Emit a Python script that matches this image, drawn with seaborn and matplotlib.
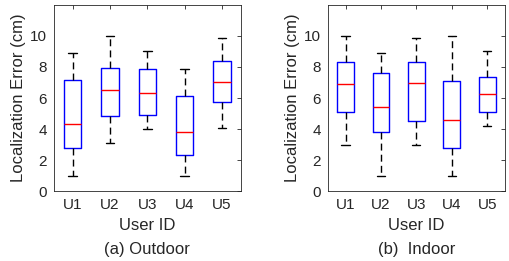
import numpy as np
import pandas as pd
import matplotlib
matplotlib.use('Agg')
import matplotlib.pyplot as plt
import seaborn as sns

# five-number summaries: min, q1, median, q3, max
users = ['U1', 'U2', 'U3', 'U4', 'U5']
outdoor_min = [1.0, 3.1, 4.0, 1.0, 4.05]
outdoor_q1 = [2.8, 4.85, 4.9, 2.3, 5.75]
outdoor_med = [4.3, 6.5, 6.3, 3.8, 7.05]
outdoor_q3 = [7.15, 7.95, 7.9, 6.1, 8.4]
outdoor_max = [8.9, 10.0, 9.0, 7.85, 9.9]

indoor_min = [3.0, 1.0, 3.0, 1.0, 4.2]
indoor_q1 = [5.1, 3.8, 4.5, 2.75, 5.1]
indoor_med = [6.9, 5.4, 6.95, 4.55, 6.25]
indoor_q3 = [8.3, 7.6, 8.3, 7.1, 7.35]
indoor_max = [10.0, 8.9, 9.85, 10.0, 9.0]


def make_df(mins, q1s, meds, q3s, maxs):
    rows = []
    for i, u in enumerate(users):
        for v in [mins[i], q1s[i], meds[i], q3s[i], maxs[i]]:
            rows.append({'user': u, 'error': v})
    return pd.DataFrame(rows)


outdoor_df = make_df(outdoor_min, outdoor_q1, outdoor_med, outdoor_q3, outdoor_max)
indoor_df = make_df(indoor_min, indoor_q1, indoor_med, indoor_q3, indoor_max)

sns.set_style('white')
plt.rcParams['font.family'] = ['Liberation Sans', 'DejaVu Sans']

fig = plt.figure(figsize=(5.09, 2.61), dpi=100)
ax1 = fig.add_axes([0.106, 0.268, 0.367, 0.713])
ax2 = fig.add_axes([0.644, 0.268, 0.348, 0.713])

for ax, df, sub in [(ax1, outdoor_df, '(a) Outdoor'), (ax2, indoor_df, '(b)  Indoor')]:
    sns.boxplot(data=df, x='user', y='error', ax=ax, whis=np.inf, width=0.47,
                fill=False, linewidth=1.0,
                boxprops=dict(color='blue'),
                medianprops=dict(color='red', linewidth=1.0),
                whiskerprops=dict(color='black', linestyle=(0, (5, 3)), linewidth=1.0),
                capprops=dict(color='black', linewidth=1.0),
                capwidths=0.23)
    ax.set_xlim(-0.5, 4.5)
    ax.set_ylim(0, 12)
    ax.set_yticks([0, 2, 4, 6, 8, 10])
    ax.tick_params(direction='in', length=3, width=0.6, labelsize=11, colors='#262626',
                   top=True, right=True, pad=5)
    for s in ax.spines.values():
        s.set_visible(True)
        s.set_color('#262626')
        s.set_linewidth(0.6)
    ax.set_xlabel('User ID', fontsize=12, labelpad=4)
    ax.set_ylabel('Localization Error (cm)', fontsize=12, labelpad=3)
    ax.text(0.5, -0.272, sub, transform=ax.transAxes, ha='center', va='top', fontsize=12)

fig.savefig('out.png', dpi=100)
